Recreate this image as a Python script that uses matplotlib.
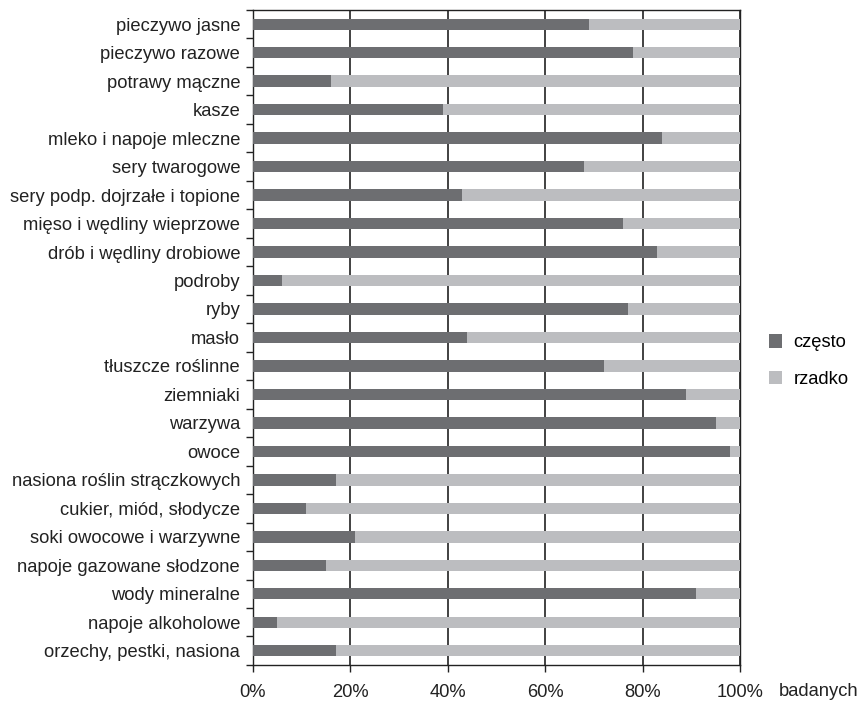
import numpy as np
import matplotlib.pyplot as plt

plt.rcParams['font.family'] = ['Liberation Sans', 'DejaVu Sans']

# Kategorie produktów (od góry wykresu)
kategorie = [
    'pieczywo jasne', 'pieczywo razowe', 'potrawy mączne', 'kasze',
    'mleko i napoje mleczne', 'sery twarogowe', 'sery podp. dojrzałe i topione',
    'mięso i wędliny wieprzowe', 'drób i wędliny drobiowe', 'podroby', 'ryby',
    'masło', 'tłuszcze roślinne', 'ziemniaki', 'warzywa', 'owoce',
    'nasiona roślin strączkowych', 'cukier, miód, słodycze',
    'soki owocowe i warzywne', 'napoje gazowane słodzone', 'wody mineralne',
    'napoje alkoholowe', 'orzechy, pestki, nasiona',
]
czesto = [69, 78, 16, 39, 84, 68, 43, 76, 83, 6, 77, 44, 72, 89, 95, 98,
          17, 11, 21, 15, 91, 5, 17]
rzadko = [100 - v for v in czesto]

FS = 13.2

fig = plt.figure(figsize=(8.59, 7.03), dpi=100)
ax = fig.add_axes([0.2942, 0.0541, 0.8615 - 0.2942, 0.9858 - 0.0541])

n = len(kategorie)
y = np.arange(n)
ax.barh(y, czesto, height=0.4, color='#6d6e71', label='często', zorder=3)
ax.barh(y, rzadko, left=czesto, height=0.4, color='#bcbdc0', label='rzadko', zorder=3)

ax.set_xlim(0, 100)
ax.set_ylim(n - 0.5, -0.5)
ax.set_xticks(np.arange(0, 101, 20))
ax.set_xticklabels([f'{v}%' for v in range(0, 101, 20)])
ax.xaxis.grid(True, color='#333333', linewidth=1.3, zorder=1)

ax.set_yticks(y)
ax.set_yticklabels(kategorie)
ax.set_yticks(np.arange(n + 1) - 0.5, minor=True)
ax.tick_params(axis='y', which='major', length=0, pad=9, labelsize=FS)
ax.tick_params(axis='y', which='minor', length=5, width=1, color='#222222')
ax.tick_params(axis='x', length=5, width=1, color='#222222', pad=9, labelsize=FS)

for s in ax.spines.values():
    s.set_color('#222222')
    s.set_linewidth(1)

fig.text(0.999, 1 - 692 / 703, 'badanych', fontsize=FS, ha='right', va='center',
         color='#222222')

ax.legend(loc='center left', bbox_to_anchor=(1.025, 0.464), frameon=False,
          fontsize=FS, handlelength=0.75, handleheight=0.75, labelspacing=1.05,
          handletextpad=0.6)

for t in ax.get_xticklabels() + ax.get_yticklabels():
    t.set_color('#222222')

fig.savefig('out.png', dpi=100)
